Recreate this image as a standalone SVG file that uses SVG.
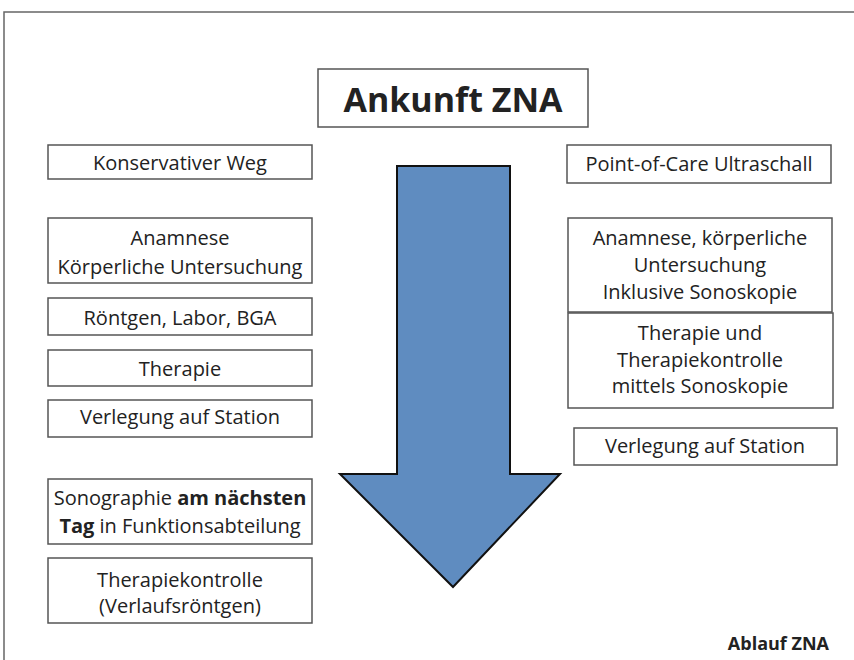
<svg xmlns="http://www.w3.org/2000/svg" width="854" height="660" viewBox="0 0 854 660">
<style>
.box{fill:#fff;stroke:#555;stroke-width:1.5}
.t{font-family:"Open Sans","Liberation Sans",sans-serif;font-size:20px;fill:#222;text-anchor:middle}
.b{font-weight:bold}
</style>
<rect width="854" height="660" fill="#fff"/>
<path d="M4,660 V12 H854" fill="none" stroke="#666" stroke-width="1.5"/>
<g id="connectors">
<path id="arrow" d="M397,166 H510 V474 H560 L453,587 L340,474 H397 Z" fill="#5f8cc0" stroke="#111" stroke-width="2" stroke-linejoin="miter"/>
</g>
<g id="title"><rect class="box" x="318" y="69" width="270" height="58"/><text class="t b" x="453" y="112" style="font-size:34px">Ankunft ZNA</text></g>
<g id="konservativ"><rect class="box" x="48" y="145" width="264" height="34"/><text class="t" x="180" y="170">Konservativer Weg</text></g>
<g id="l-anamnese"><rect class="box" x="48" y="218" width="264" height="65"/><text class="t" x="180" y="245">Anamnese</text><text class="t" x="180" y="274">Körperliche Untersuchung</text></g>
<g id="l-roentgen"><rect class="box" x="48" y="298" width="264" height="37"/><text class="t" x="180" y="325">Röntgen, Labor, BGA</text></g>
<g id="l-therapie"><rect class="box" x="48" y="350" width="264" height="36"/><text class="t" x="180" y="376">Therapie</text></g>
<g id="l-verlegung"><rect class="box" x="48" y="400" width="264" height="37"/><text class="t" x="180" y="424">Verlegung auf Station</text></g>
<g id="l-sono"><rect class="box" x="48" y="479" width="264" height="65"/><text class="t" x="180" y="505">Sonographie <tspan class="b">am nächsten</tspan></text><text class="t" x="180" y="533"><tspan class="b">Tag</tspan> in Funktionsabteilung</text></g>
<g id="l-kontrolle"><rect class="box" x="48" y="558" width="264" height="65"/><text class="t" x="180" y="587">Therapiekontrolle</text><text class="t" x="180" y="613">(Verlaufsröntgen)</text></g>
<g id="poc"><rect class="box" x="567" y="145" width="264" height="38"/><text class="t" x="699" y="171">Point-of-Care Ultraschall</text></g>
<g id="r-anamnese"><rect class="box" x="568" y="218" width="264" height="94"/><text class="t" x="700" y="245">Anamnese, körperliche</text><text class="t" x="700" y="272">Untersuchung</text><text class="t" x="700" y="299">Inklusive Sonoskopie</text></g>
<g id="r-therapie"><rect class="box" x="568" y="313" width="265" height="95"/><text class="t" x="700" y="340">Therapie und</text><text class="t" x="700" y="367">Therapiekontrolle</text><text class="t" x="700" y="393">mittels Sonoskopie</text></g>
<g id="r-verlegung"><rect class="box" x="574" y="428" width="263" height="37"/><text class="t" x="705" y="453">Verlegung auf Station</text></g>
<text class="t b" x="829" y="650" style="font-size:18px;text-anchor:end">Ablauf ZNA</text>
</svg>
